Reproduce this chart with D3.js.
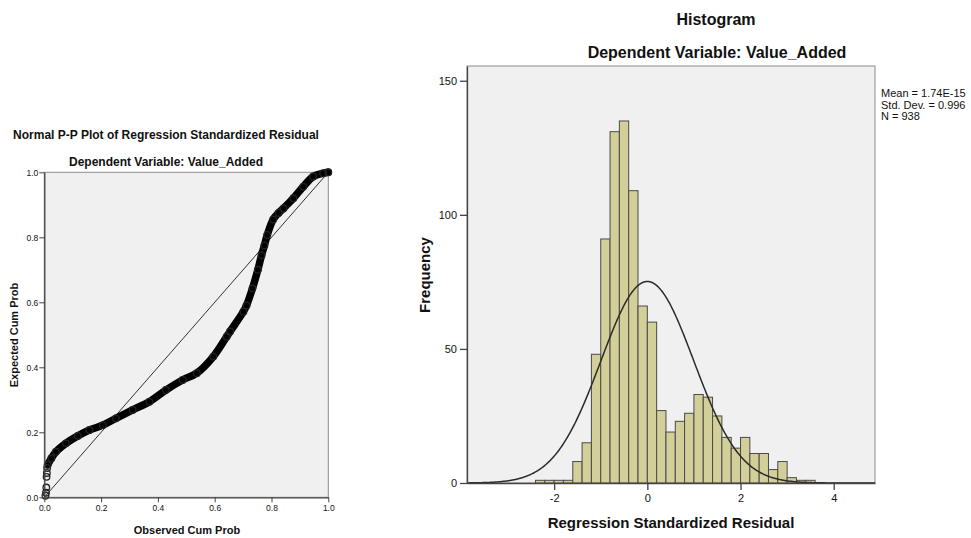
<!DOCTYPE html>
<html>
<head>
    <title></title>
    <style>
        body {
            margin: 0;
            background: #fff;
        }
        text {
            font-family: "Liberation Sans", Arial, sans-serif;
            fill: #111;
        }
        .frame {
            fill: #f0f0f0;
            stroke: #8c8c8c;
            stroke-width: 1px;
        }
        .axisline {
            stroke: #444;
            stroke-width: 1.3px;
        }
        .bar {
            fill: #d3cf98;
            stroke: #4a4a4a;
            stroke-width: 1px;
        }
    </style>
</head>
<body>
<script src="https://d3js.org/d3.v7.min.js"></script>
<script>
    var width = 971;
    var height = 538;

    // P-P plot (observed cum prob, expected cum prob)
    var ppSparse = [[0.004, 0.005], [0.006, 0.014], [0.007, 0.03], [0.008, 0.063], [0.009, 0.075], [0.010, 0.09]];
    var ppObserved = [0.012, 0.025, 0.041, 0.076, 0.118, 0.159, 0.206, 0.252, 0.311, 0.37, 0.428, 0.487, 0.537, 0.595, 0.642,
        0.654, 0.701, 0.712, 0.733, 0.752, 0.765, 0.775, 0.785, 0.806, 0.825, 0.842, 0.877, 0.912, 0.947, 0.982, 1.0];
    var ppExpected = [0.10, 0.12, 0.14, 0.166, 0.189, 0.207, 0.222, 0.243, 0.269, 0.294, 0.33, 0.361, 0.382, 0.433, 0.494,
        0.51, 0.571, 0.59, 0.643, 0.70, 0.745, 0.775, 0.807, 0.855, 0.875, 0.889, 0.92, 0.956, 0.987, 0.997, 1.0];
    var ppTicks = [0, 0.2, 0.4, 0.6, 0.8, 1.0];

    // histogram of residuals
    var binLower = [-2.4, -2.2, -2.0, -1.8, -1.6, -1.4, -1.2, -1.0, -0.8, -0.6, -0.4, -0.2, 0, 0.2, 0.4,
        0.6, 0.8, 1.0, 1.2, 1.4, 1.6, 1.8, 2.0, 2.2, 2.4, 2.6, 2.8, 3.0, 3.2, 3.4];
    var binCounts = [1, 1, 1, 1, 8, 15, 48, 91, 131, 135, 109, 66, 60, 27, 19,
        23, 26, 33, 32, 25, 17, 13, 17, 11, 11, 5, 8, 2, 1, 1];
    var binWidth = 0.2;
    var histXTicks = [-2, 0, 2, 4];
    var histYTicks = [0, 50, 100, 150];
    var resMean = 1.74e-15;
    var resSd = 0.996;
    var resN = 938;
    var statLines = ["Mean = 1.74E-15", "Std. Dev. = 0.996", "N = 938"];

    var svg = d3.select("body").append("svg")
            .attr("width", width)
            .attr("height", height);

    // ---------- left: P-P plot ----------
    var px = d3.scaleLinear().domain([0, 1]).range([44.3, 328.3]);
    var py = d3.scaleLinear().domain([0, 1]).range([497.3, 172.3]);

    svg.append("rect").attr("class", "frame")
            .attr("x", px(0)).attr("y", py(1))
            .attr("width", px(1) - px(0)).attr("height", py(0) - py(1));

    svg.append("line")
            .attr("x1", px(0)).attr("y1", py(0))
            .attr("x2", px(1)).attr("y2", py(1))
            .attr("stroke", "#333").attr("stroke-width", 1);

    var ppData = ppObserved.map(function(d, i) {return [d, ppExpected[i]];});

    svg.append("path")
            .datum(ppData)
            .attr("d", d3.line().x(function(d) {return px(d[0]);}).y(function(d) {return py(d[1]);}).curve(d3.curveCatmullRom))
            .attr("fill", "none")
            .attr("stroke", "#000")
            .attr("stroke-width", 7.5)
            .attr("stroke-linecap", "round")
            .attr("stroke-linejoin", "round");

    svg.selectAll(".pp").data(ppSparse.concat(ppData)).enter().append("circle")
            .attr("cx", function(d) {return px(d[0]);})
            .attr("cy", function(d) {return py(d[1]);})
            .attr("r", 3.3)
            .attr("fill", "none")
            .attr("stroke", "#222")
            .attr("stroke-width", 1.3);

    var pAxisY = svg.append("g").attr("transform", "translate(" + px(0) + ",0)")
            .call(d3.axisLeft(py).tickValues(ppTicks).tickFormat(d3.format(".1f")).tickSize(5).tickSizeOuter(0));
    var pAxisX = svg.append("g").attr("transform", "translate(0," + py(0) + ")")
            .call(d3.axisBottom(px).tickValues(ppTicks).tickFormat(d3.format(".1f")).tickSize(5).tickSizeOuter(0));
    [pAxisY, pAxisX].forEach(function(a) {
        a.select(".domain").attr("class", "axisline");
        a.selectAll(".tick line").attr("stroke", "#444");
        a.selectAll("text").style("font-size", "8.5px").attr("fill", "#333");
    });
    pAxisY.selectAll("text").attr("x", -6);

    svg.append("text").attr("x", 166).attr("y", 139).attr("text-anchor", "middle")
            .style("font-size", "12px").style("font-weight", "bold")
            .text("Normal P-P Plot of Regression Standardized Residual");
    svg.append("text").attr("x", 166).attr("y", 166).attr("text-anchor", "middle")
            .style("font-size", "12px").style("font-weight", "bold")
            .text("Dependent Variable: Value_Added");
    svg.append("text").attr("x", 187).attr("y", 534).attr("text-anchor", "middle")
            .style("font-size", "11px").style("font-weight", "bold")
            .text("Observed Cum Prob");
    svg.append("text").attr("transform", "translate(18,335)rotate(-90)").attr("text-anchor", "middle")
            .style("font-size", "11px").style("font-weight", "bold")
            .text("Expected Cum Prob");

    // ---------- right: histogram ----------
    var hx = d3.scaleLinear().domain([-3.87, 4.886]).range([467, 875]);
    var hy = d3.scaleLinear().domain([0, 155.5]).range([483, 66]);

    svg.append("rect").attr("class", "frame")
            .attr("x", hx.range()[0]).attr("y", hy.range()[1])
            .attr("width", hx.range()[1] - hx.range()[0]).attr("height", hy.range()[0] - hy.range()[1]);

    svg.selectAll(".bar").data(binLower).enter().append("rect")
            .attr("class", "bar")
            .attr("x", function(d) {return hx(d);})
            .attr("y", function(d, i) {return hy(binCounts[i]);})
            .attr("width", function(d) {return hx(d + binWidth) - hx(d);})
            .attr("height", function(d, i) {return hy(0) - hy(binCounts[i]);});

    var curveX = d3.range(hx.domain()[0], hx.domain()[1], 0.02).concat([hx.domain()[1]]);
    var normal = curveX.map(function(x) {
        var z = (x - resMean) / resSd;
        return [x, resN * binWidth * Math.exp(-z * z / 2) / (resSd * Math.sqrt(2 * Math.PI))];
    });
    svg.append("path")
            .datum(normal)
            .attr("d", d3.line().x(function(d) {return hx(d[0]);}).y(function(d) {return hy(d[1]);}))
            .attr("fill", "none")
            .attr("stroke", "#2b2b2b")
            .attr("stroke-width", 1.5);

    var hAxisY = svg.append("g").attr("transform", "translate(" + hx.range()[0] + ",0)")
            .call(d3.axisLeft(hy).tickValues(histYTicks).tickSize(7).tickSizeOuter(0));
    var hAxisX = svg.append("g").attr("transform", "translate(0," + hy(0) + ")")
            .call(d3.axisBottom(hx).tickValues(histXTicks).tickFormat(d3.format("d")).tickSize(7).tickSizeOuter(0));
    [hAxisY, hAxisX].forEach(function(a) {
        a.select(".domain").attr("class", "axisline");
        a.selectAll(".tick line").attr("stroke", "#444").attr("stroke-width", 1.3);
        a.selectAll("text").style("font-size", "11px").attr("fill", "#222");
    });
    hAxisX.selectAll("text").attr("y", 11).text(function(d) {return d < 0 ? "-" + Math.abs(d) : d;});

    svg.append("text").attr("x", 716).attr("y", 25).attr("text-anchor", "middle")
            .style("font-size", "16px").style("font-weight", "bold")
            .text("Histogram");
    svg.append("text").attr("x", 717).attr("y", 58).attr("text-anchor", "middle")
            .style("font-size", "16px").style("font-weight", "bold")
            .text("Dependent Variable: Value_Added");
    svg.append("text").attr("x", 671).attr("y", 528).attr("text-anchor", "middle")
            .style("font-size", "15px").style("font-weight", "bold")
            .text("Regression Standardized Residual");
    svg.append("text").attr("transform", "translate(430,275)rotate(-90)").attr("text-anchor", "middle")
            .style("font-size", "15px").style("font-weight", "bold")
            .text("Frequency");

    svg.selectAll(".stat").data(statLines).enter().append("text")
            .attr("x", 881)
            .attr("y", function(d, i) {return 97 + i * 11.5;})
            .style("font-size", "11px")
            .text(function(d) {return d;});
</script>
</body>
</html>
